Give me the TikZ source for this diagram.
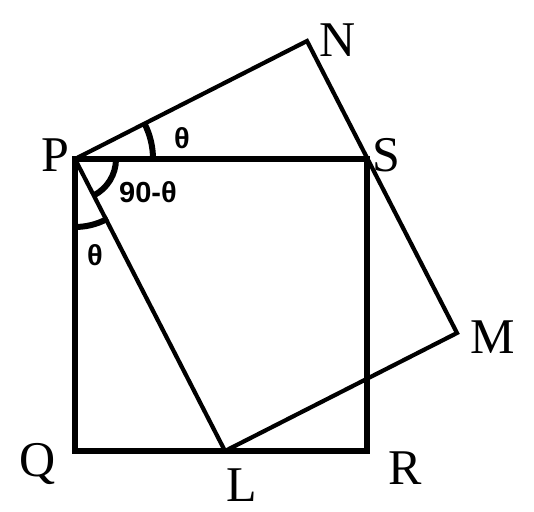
\documentclass[tikz,border=0pt]{standalone}
\usepackage{fontspec}
\setmainfont{Liberation Serif}
\newfontfamily\lblsans{Liberation Sans}
\tikzset{
  sqline/.style={line width=6pt},
  rectline/.style={line width=4.2pt},
  anglearc/.style={line width=6pt},
  ptlabel/.style={font=\fontsize{50}{50}\selectfont, inner sep=0pt},
  anglabel/.style={font=\lblsans\bfseries\fontsize{29}{29}\selectfont, inner sep=0pt}
}
\begin{document}
\begin{tikzpicture}[x=1pt,y=1pt]
\useasboundingbox (0,0) rectangle (534,511);
\coordinate (P) at (75,352);
\coordinate (S) at (367,352);
\coordinate (R) at (367,60);
\coordinate (Q) at (75,60);
\coordinate (L) at (225,60);
\coordinate (M) at (457,178);
\coordinate (N) at (307,470);
\draw[sqline] (P) -- (S) -- (R) -- (Q) -- cycle;
\draw[rectline] (P) -- (L) -- (M) -- (N) -- cycle;
\draw[anglearc] ([shift={(0:78)}]P) arc[start angle=0, end angle=27, radius=78];
\draw[anglearc] ([shift={(0:41)}]P) arc[start angle=0, end angle=-63, radius=41];
\draw[anglearc] ([shift={(-61:68)}]P) arc[start angle=-61, end angle=-92, radius=68];
\node[ptlabel] (lP) at (55,356) {P};
\node[ptlabel] (lS) at (386,356) {S};
\node[ptlabel] (lN) at (338,471) {N};
\node[ptlabel] (lM) at (493,174) {M};
\node[ptlabel] (lR) at (405,43) {R};
\node[ptlabel] (lL) at (242,26) {L};
\node[ptlabel] (lQ) at (38,47) {Q};
\node[anglabel] (t1) at (182,373) {θ};
\node[anglabel] (t2) at (148,319) {90-θ};
\node[anglabel] (t3) at (95,256) {θ};
\end{tikzpicture}
\end{document}
